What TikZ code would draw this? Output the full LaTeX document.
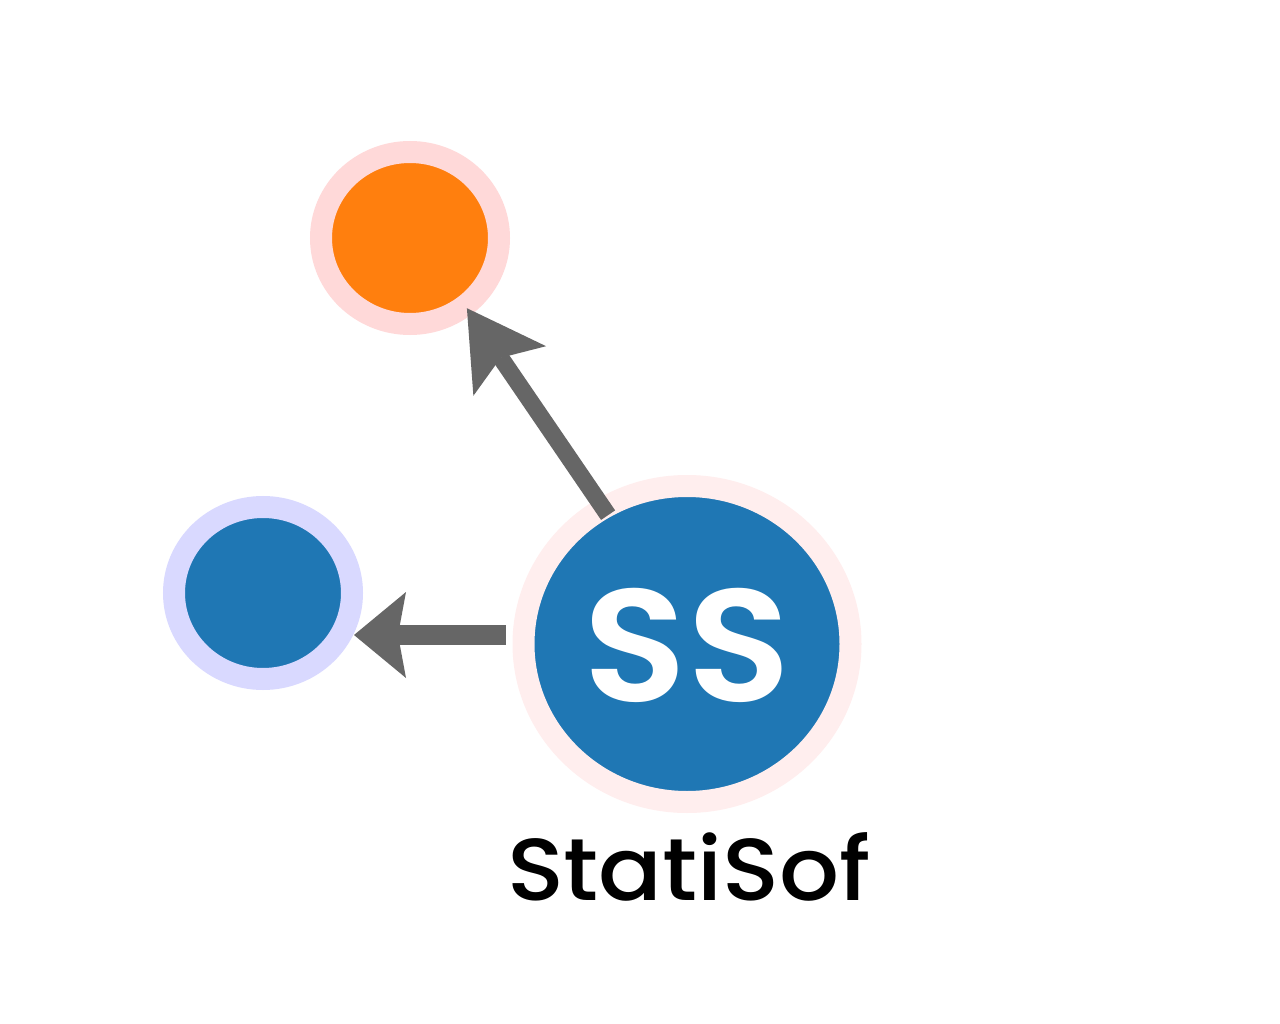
\documentclass[tikz,border=0pt]{standalone}
\usepackage{fontspec}
\setmainfont{Poppins}
\newfontfamily\popsemi{Poppins}[UprightFont=* SemiBold]
\newfontfamily\popmed{Poppins}[UprightFont=* Medium]
\usetikzlibrary{shapes.geometric,arrows.meta}
\definecolor{tabblue}{HTML}{1F77B4}
\definecolor{taborange}{HTML}{FF7F0E}
\definecolor{halopink}{HTML}{FFD9D9}
\definecolor{halolav}{HTML}{D9D9FF}
\definecolor{halolight}{HTML}{FFEEEE}
\definecolor{conngray}{HTML}{666666}
\begin{document}
\begin{tikzpicture}[x=1pt,y=-1pt,
  dot/.style={ellipse,inner sep=0pt,line width=22pt,minimum width=178pt,minimum height=172pt},
  bigdot/.style={ellipse,inner sep=0pt,line width=22pt,minimum width=327pt,minimum height=316pt,fill=tabblue,draw=halolight},
  conn/.style={draw=conngray,line width=17pt},
]
\fill[white] (0,0) rectangle (1280,1024);
\useasboundingbox (0,0) rectangle (1280,1024);
\node[dot,fill=taborange,draw=halopink] (top) at (410,238) {};
\node[dot,fill=tabblue,draw=halolav] (left) at (263,593) {};
\node[bigdot] (big) at (687,644) {};
\coordinate (ts) at ([xshift=9pt]big.center);
\coordinate (te) at ([xshift=9pt]top.center);
\draw[conn,-{Stealth[length=76pt,width=88pt,inset=16pt,line width=0pt]},shorten <=156pt,shorten >=85pt] (ts) -- (te);
\coordinate (ls) at ([xshift=-7pt,yshift=9pt]big.west);
\coordinate (le) at ([xshift=1pt,yshift=-42pt]left.east);
\draw[conn,line width=20pt,-{Stealth[length=52pt,width=86pt,inset=8pt,line width=0pt]},shorten >=-10pt] (ls) -- (ls -| le);
\node[font=\fontsize{160}{160}\popsemi,text=white,inner sep=0pt] (ss) at (687,645) {\scalebox{1.06}[1]{SS}};
\node[font=\fontsize{88}{88}\popmed,anchor=base,inner sep=0pt] (lbl) at (689,900) {\scalebox{1.07}[1]{StatiSof}};
\end{tikzpicture}
\end{document}
